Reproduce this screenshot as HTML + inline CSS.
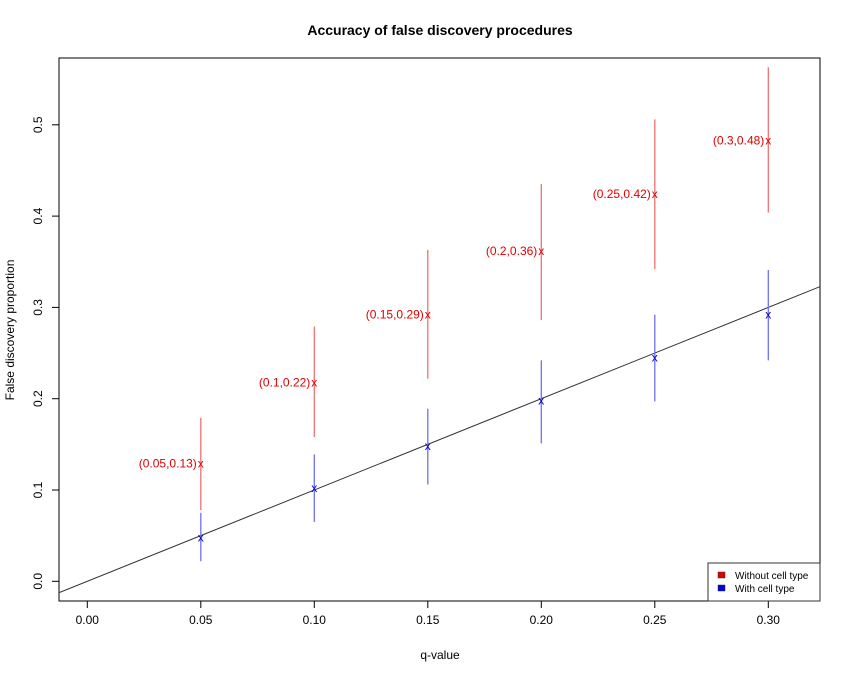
<!DOCTYPE html>
<html><head><meta charset="utf-8"><style>
body{margin:0;background:#fff;font-family:"Liberation Sans",Arial,sans-serif}
</style></head><body>
<svg id="chart" width="850" height="675" xmlns="http://www.w3.org/2000/svg" font-family="Liberation Sans, Arial, sans-serif">
<defs><clipPath id="pc"><rect x="59" y="58" width="761" height="543"/></clipPath></defs>
<text x="440" y="35" text-anchor="middle" font-size="14" font-weight="bold">Accuracy of false discovery procedures</text>
<text x="440" y="659" text-anchor="middle" font-size="12">q-value</text>
<text transform="translate(14,330) rotate(-90)" text-anchor="middle" font-size="12">False discovery proportion</text>
<rect x="59" y="58" width="761" height="543" fill="none" stroke="#000" stroke-width="1"/>
<g id="layer"></g>
</svg>
<script>
const qvals=[0.05,0.10,0.15,0.20,0.25,0.30];
const redMean=[0.129,0.218,0.292,0.362,0.424,0.483];
const redLo=[0.078,0.158,0.222,0.286,0.342,0.404];
const redHi=[0.179,0.279,0.363,0.435,0.506,0.563];
const redLabels=["(0.05,0.13)","(0.1,0.22)","(0.15,0.29)","(0.2,0.36)","(0.25,0.42)","(0.3,0.48)"];
const blueMean=[0.048,0.102,0.148,0.198,0.245,0.292];
const blueLo=[0.022,0.065,0.106,0.151,0.197,0.242];
const blueHi=[0.075,0.139,0.189,0.242,0.292,0.341];
const xTicks=[0,0.05,0.10,0.15,0.20,0.25,0.30];
const xTickLabels=["0.00","0.05","0.10","0.15","0.20","0.25","0.30"];
const yTicks=[0,0.1,0.2,0.3,0.4,0.5];
const yTickLabels=["0.0","0.1","0.2","0.3","0.4","0.5"];
const X=v=>87.3+v*2270;
const Y=v=>581.3-v*913;
const NS="http://www.w3.org/2000/svg";
const g=document.getElementById('layer');
function mk(t,a,p){const e=document.createElementNS(NS,t);for(const k in a)e.setAttribute(k,a[k]);(p||g).appendChild(e);return e;}
xTicks.forEach((v,i)=>{
 const l=mk('line',{x1:X(v),x2:X(v),y1:601,y2:608,stroke:'#000'});
 
 const t=mk('text',{x:X(v),y:624,'text-anchor':'middle','font-size':12});t.textContent=xTickLabels[i];
 
});
yTicks.forEach((v,i)=>{
 const l=mk('line',{x1:52,x2:59,y1:Y(v),y2:Y(v),stroke:'#000'});
 
 const t=mk('text',{transform:`translate(42,${Y(v)}) rotate(-90)`,'text-anchor':'middle','font-size':12});t.textContent=yTickLabels[i];
 
});
const cg=mk('g',{'clip-path':'url(#pc)'});
const ref=mk('line',{x1:X(-0.02),y1:Y(-0.02),x2:X(0.35),y2:Y(0.35),stroke:'#333'},cg);

qvals.forEach((q,i)=>{
 const rb=mk('line',{x1:X(q),x2:X(q),y1:Y(redLo[i]),y2:Y(redHi[i]),stroke:'#f07070','stroke-width':1.3});
 
 const bb=mk('line',{x1:X(q),x2:X(q),y1:Y(blueLo[i]),y2:Y(blueHi[i]),stroke:'#7070f0','stroke-width':1.3});
 
 const rm=mk('text',{x:X(q),y:Y(redMean[i])+4,'text-anchor':'middle','font-size':12,fill:'#e00000'});rm.textContent='x';
 
 const bm=mk('text',{x:X(q),y:Y(blueMean[i])+4,'text-anchor':'middle','font-size':12,fill:'#0000d0'});bm.textContent='x';
 
 const lb=mk('text',{x:X(q)-4,y:Y(redMean[i])+4,'text-anchor':'end','font-size':12,fill:'#e00000'});lb.textContent=redLabels[i];
 
});
const lg=mk('g',{});

mk('rect',{x:708,y:563,width:112,height:38,fill:'#fff',stroke:'#333'},lg);
mk('rect',{x:718,y:572,width:7,height:6,fill:'#e00000',stroke:'#333','stroke-width':0.5},lg);
mk('rect',{x:718,y:585,width:7,height:6,fill:'#0000e0',stroke:'#333','stroke-width':0.5},lg);
const t1=mk('text',{x:735,y:579,'font-size':10},lg);t1.textContent='Without cell type';

const t2=mk('text',{x:735,y:592,'font-size':10},lg);t2.textContent='With cell type';

</script>
</body></html>
